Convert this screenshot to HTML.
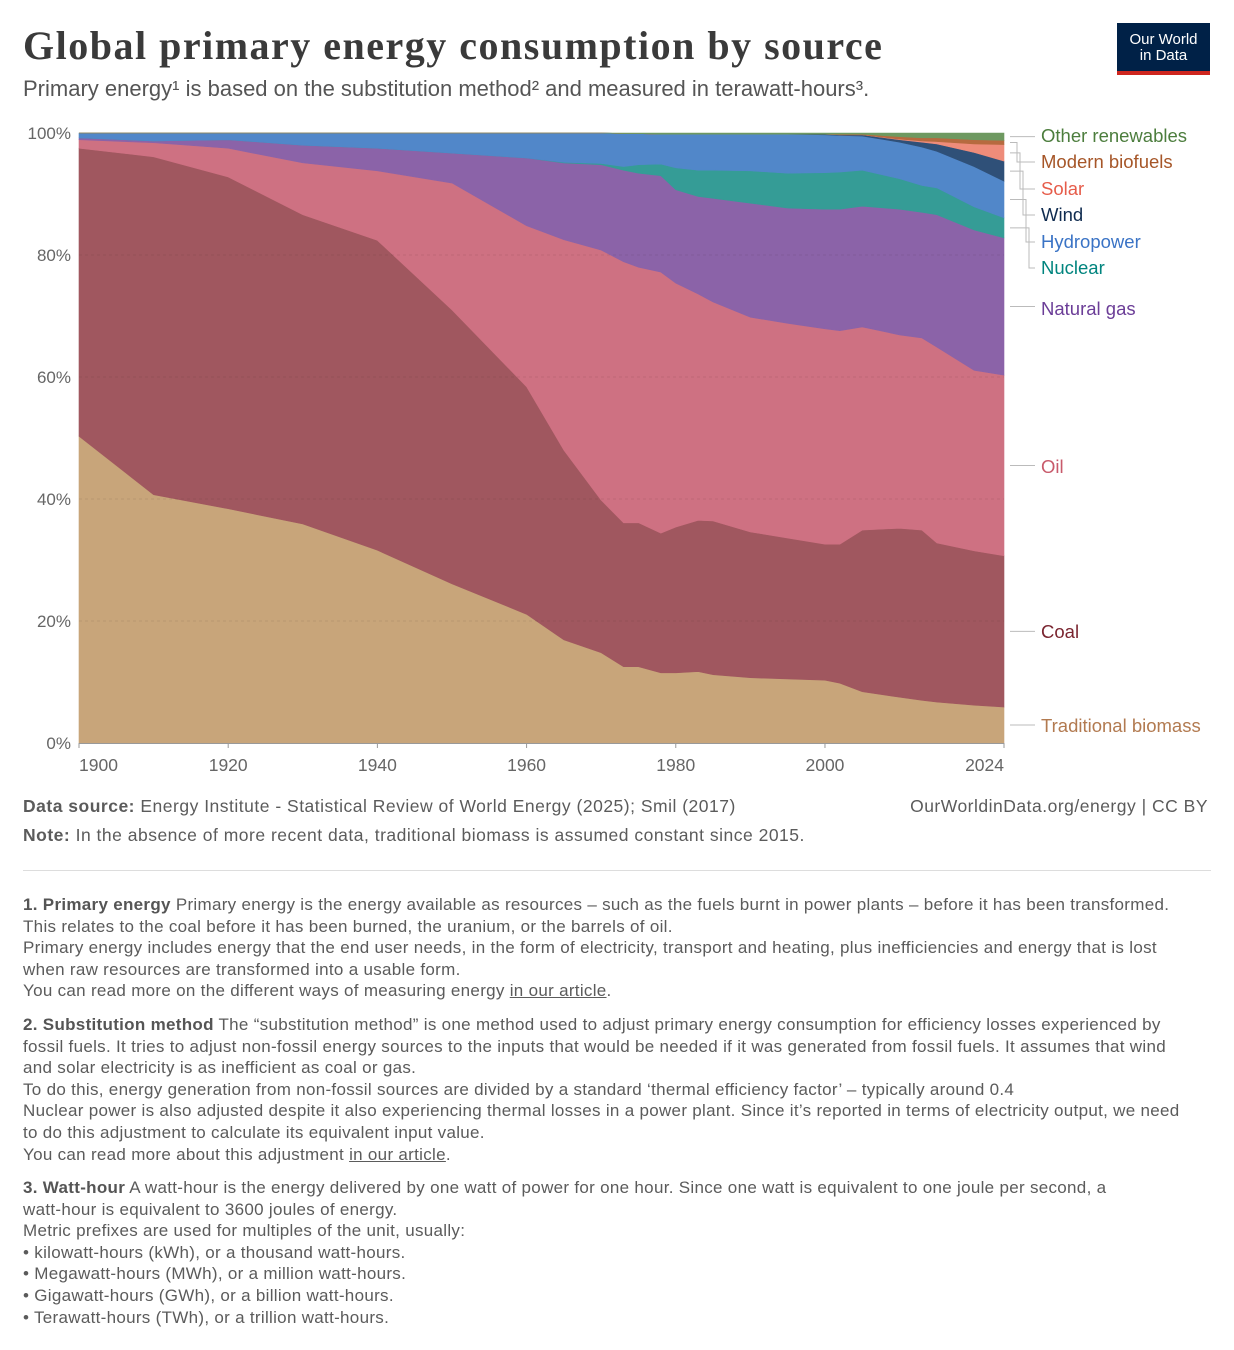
<!DOCTYPE html>
<html><head><meta charset="utf-8">
<style>
body{margin:0;width:1234px;height:1350px;background:#fff;font-family:"Liberation Sans",sans-serif;color:#5b5b5b;position:relative;overflow:hidden}
.t{position:absolute;white-space:nowrap}
#title{left:23px;top:22px;font-family:"Liberation Serif",serif;font-weight:bold;font-size:40px;letter-spacing:1.5px;color:#3a3a3a}
#sub{left:23px;top:76px;font-size:22px;color:#555}
#logo{position:absolute;left:1117px;top:23px;width:93px;height:52px;background:#002147;color:#fff;text-align:center;font-size:15px;line-height:16px;box-sizing:border-box;padding-top:9px;border-bottom:4px solid #ce261e}
.notes{position:absolute;left:23px;width:1160px;font-size:17px;letter-spacing:0.3px;line-height:21.6px;color:#5b5b5b}
.notes b{color:#555}
.nw{white-space:nowrap}
.src{font-size:17.5px;letter-spacing:0.5px}
</style></head><body>
<div id="title" class="t">Global primary energy consumption by source</div>
<div id="sub" class="t">Primary energy¹ is based on the substitution method² and measured in terawatt-hours³.</div>
<div id="logo">Our World<br>in Data</div>
<svg id="chart" width="1234" height="790" style="position:absolute;left:0;top:0"></svg>
<div class="t src" style="left:23px;top:796px"><b>Data source:</b> Energy Institute - Statistical Review of World Energy (2025); Smil (2017)</div>
<div class="t src" style="right:26px;top:796px">OurWorldinData.org/energy | CC BY</div>
<div class="t src" style="left:23px;top:825px"><b>Note:</b> In the absence of more recent data, traditional biomass is assumed constant since 2015.</div>
<div style="position:absolute;left:23px;top:870px;width:1188px;height:1px;background:#ddd"></div>
<div class="notes" style="top:894px"><b>1. Primary energy</b> Primary energy is the energy available as resources – such as the fuels burnt in power plants – before it has been transformed. This relates to the coal before it has been burned, the uranium, or the barrels of oil.<br>Primary energy includes energy that the end user needs, in the form of electricity, transport and heating, plus inefficiencies and energy that is lost when raw resources are transformed into a usable form.<br>You can read more on the different ways of measuring energy <u>in our article</u>.</div>
<div class="notes" style="top:1014px"><b>2. Substitution method</b> The “substitution method” is one method used to adjust primary energy consumption for efficiency losses experienced by fossil fuels. It tries to adjust non-fossil energy sources to the inputs that would be needed if it was generated from fossil fuels. It assumes that wind and solar electricity is as inefficient as coal or gas.<br>To do this, energy generation from non-fossil sources are divided by a standard ‘thermal efficiency factor’ – typically around 0.4<br>Nuclear power is also adjusted despite it also experiencing thermal losses in a power plant. Since it’s reported in terms of electricity output, we need to do this adjustment to calculate its equivalent input value.<br>You can read more about this adjustment <u>in our article</u>.</div>
<div class="notes" style="top:1177px"><b>3. Watt-hour</b> A watt-hour is the energy delivered by one watt of power for one hour. Since one watt is equivalent to one joule per second, a <span class="nw">watt-hour</span> is equivalent to 3600 joules of energy.<br>Metric prefixes are used for multiples of the unit, usually:<br>• kilowatt-hours (kWh), or a thousand watt-hours.<br>• Megawatt-hours (MWh), or a million watt-hours.<br>• Gigawatt-hours (GWh), or a billion watt-hours.<br>• Terawatt-hours (TWh), or a trillion watt-hours.</div>
<script>
const years=[1900,1910,1920,1930,1940,1950,1960,1965,1970,1973,1975,1978,1980,1983,1985,1990,1995,2000,2002,2005,2010,2013,2015,2020,2024];
const biomass=[50.3,40.7,38.4,35.9,31.6,26.1,21.1,16.9,14.8,12.5,12.5,11.5,11.5,11.7,11.2,10.7,10.5,10.3,9.8,8.4,7.5,7.0,6.7,6.2,5.9];
const coal=[47.2,55.4,54.4,50.7,50.8,44.9,37.3,31.1,25.0,23.6,23.6,22.9,23.9,24.8,25.2,23.9,23.1,22.3,22.8,26.5,27.7,27.9,26.1,25.3,24.8];
const oil=[1.4,2.3,4.7,8.5,11.4,20.8,26.4,34.5,41.0,42.8,41.9,42.8,40.0,37.1,35.9,35.2,35.2,35.3,35.0,33.3,31.7,31.5,32.1,29.6,29.6];
const gas=[0.3,0.3,1.4,2.9,3.7,4.9,11.1,12.6,14.0,15.0,15.4,15.8,15.3,16.0,17.0,18.7,18.9,19.6,19.9,19.8,20.6,20.6,21.7,23.0,22.5];
const nuclear=[0,0,0,0,0,0,0,0.1,0.2,0.6,1.4,1.9,3.6,4.3,4.6,5.3,5.7,6.0,6.1,5.9,5.0,4.4,4.4,3.8,3.3];
const hydro=[0.8,1.3,1.1,2.0,2.5,3.3,4.1,4.8,5.0,5.4,5.1,4.9,5.5,5.9,5.9,6.0,6.4,6.2,6.0,5.6,6.0,6.3,6.0,6.6,6.0];
const wind=[0,0,0,0,0,0,0,0,0,0,0,0,0,0,0,0,0,0.1,0.1,0.2,0.4,0.8,1.2,2.3,3.3];
const solar=[0,0,0,0,0,0,0,0,0,0,0,0,0,0,0,0,0,0,0,0,0.1,0.2,0.4,1.4,2.7];
const modbio=[0,0,0,0,0,0,0,0,0,0,0,0,0,0,0,0,0,0,0.1,0.1,0.4,0.5,0.6,0.7,0.7];
const otherRen=[0,0,0,0,0,0,0,0,0,0.1,0.1,0.2,0.2,0.2,0.2,0.2,0.2,0.2,0.2,0.2,0.6,0.8,0.8,1.1,1.2];
const yTicks=[0,20,40,60,80,100];
const xTicks=[1900,1920,1940,1960,1980,2000,2024];
const seriesNames=["Traditional biomass","Coal","Oil","Natural gas","Nuclear","Hydropower","Wind","Solar","Modern biofuels","Other renewables"];

const svg=document.getElementById('chart');
const NS='http://www.w3.org/2000/svg';
const X0=79,X1=1004,Y0=743,Y1=133;
const xs=y=>X0+(y-1900)/(2024-1900)*(X1-X0);
const ys=v=>Y0-v/100*(Y0-Y1);
function mk(t,a){const e=document.createElementNS(NS,t);for(const k in a)e.setAttribute(k,a[k]);svg.appendChild(e);return e;}
const series=[biomass,coal,oil,gas,nuclear,hydro,wind,solar,modbio,otherRen];
const fills=["#c8a57a","#a0575f","#ce7182","#8b63a8","#359c96","#5187c9","#2f5078","#ee8c7a","#b66a3f","#6e9961"];
const labelColors=["#b27a50","#7a2530","#c85a6b","#6b3d97","#00847e","#3a73c5","#0f2b4f","#e65c4a","#a65628","#4c7d3d"];
const slugs=["traditional-biomass","coal","oil","natural-gas","nuclear","hydropower","wind","solar","modern-biofuels","other-renewables"];
const tot=years.map((_,i)=>series.reduce((s,a)=>s+a[i],0));
let base=years.map(()=>0);
const tops=[];
series.forEach((arr,si)=>{
  const top=base.map((b,i)=>b+arr[i]/tot[i]*100);
  let d='M'+years.map((y,i)=>xs(y)+','+ys(top[i])).join('L');
  for(let i=years.length-1;i>=0;i--)d+='L'+xs(years[i])+','+ys(base[i]);
  d+='Z';
  const p=mk('path',{d:d,fill:fills[si],stroke:fills[si],'stroke-width':0.6});
  
  
  tops.push({b:base,t:top});
  base=top;
});
yTicks.forEach(v=>{
  if(v>0&&v<100){const l=mk('line',{x1:X0,x2:X1,y1:ys(v),y2:ys(v),stroke:'rgba(0,0,0,0.08)','stroke-dasharray':'3,3'});
  
  }
  const t=mk('text',{x:71,y:ys(v)+6,'text-anchor':'end','font-size':17,fill:'#666','font-family':'Liberation Sans, sans-serif'});
  t.textContent=v+'%';
  
  
});
const ax=mk('line',{x1:X0,x2:X1,y1:Y0+0.5,y2:Y0+0.5,stroke:'#999'});


xTicks.forEach((v,i)=>{
  const x=xs(v);
  const tk=mk('line',{x1:x,x2:x,y1:Y0,y2:Y0+5,stroke:'#999'});
  
  
  const anchor=i==0?'start':(i==xTicks.length-1?'end':'middle');
  const t=mk('text',{x:x,y:Y0+28,'text-anchor':anchor,'font-size':17.5,fill:'#666','font-family':'Liberation Sans, sans-serif'});
  t.textContent=v;
  
  
});
const labelY=[732,638,473,315,274,248,221,195,168,142];
const last=years.length-1;
series.forEach((a,si)=>{
  const mid=ys((tops[si].b[last]+tops[si].t[last])/2);
  const ly=labelY[si]-6;
  let d;
  if(Math.abs(mid-ly)<3) d=`M1010,${mid}L1035,${mid}`;
  else { const ex=si>=4?1010+(9-si)*3+4:1022; d=`M1010,${mid}L${ex},${mid}L${ex},${ly}L1035,${ly}`; }
  const l=mk('path',{d:d,fill:'none',stroke:'#bbb','stroke-width':1});
  
  
  const t=mk('text',{x:1041,y:labelY[si],'font-size':18.5,fill:labelColors[si],'font-family':'Liberation Sans, sans-serif'});
  t.textContent=seriesNames[si];
  
  
});
</script>
</body></html>
